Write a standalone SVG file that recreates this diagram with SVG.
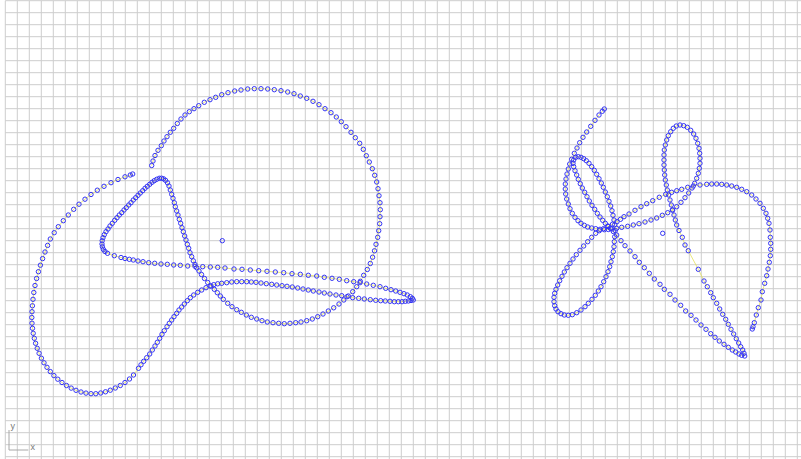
<svg xmlns="http://www.w3.org/2000/svg" width="801" height="459" viewBox="0 0 801 459">
<style>
.grid{fill:none;stroke:#cdcdcd;stroke-width:1}
.axis{fill:none;stroke:#a8a8a8;stroke-width:1}
.lbl{font-family:"Liberation Sans",Arial,sans-serif;font-size:9px;fill:#777}
.curve{fill:none;stroke:#e4e15a;stroke-width:0.8;marker-start:url(#pt);marker-mid:url(#pt);marker-end:url(#pt)}
.dot{fill:none;stroke:#3535f5;stroke-width:1}
</style>
<defs>
<marker id="pt" viewBox="-3 -3 6 6" markerWidth="6" markerHeight="6" refX="0" refY="0" markerUnits="userSpaceOnUse" overflow="visible"><circle r="2.2" class="dot"/></marker>
</defs>
<rect width="801" height="459" fill="#ffffff"/>
<g id="grid">
<path class="grid" d="M5.3 0.7V459M17.3 0.7V459M29.3 0.7V459M41.3 0.7V459M53.3 0.7V459M65.3 0.7V459M77.3 0.7V459M89.3 0.7V459M101.3 0.7V459M113.3 0.7V459M125.3 0.7V459M137.3 0.7V459M149.3 0.7V459M161.3 0.7V459M173.3 0.7V459M185.3 0.7V459M197.3 0.7V459M209.3 0.7V459M221.3 0.7V459M233.3 0.7V459M245.3 0.7V459M257.3 0.7V459M269.3 0.7V459M281.3 0.7V459M293.3 0.7V459M305.3 0.7V459M317.3 0.7V459M329.3 0.7V459M341.3 0.7V459M353.3 0.7V459M365.3 0.7V459M377.3 0.7V459M389.3 0.7V459M401.3 0.7V459M413.3 0.7V459M425.3 0.7V459M437.3 0.7V459M449.3 0.7V459M461.3 0.7V459M473.3 0.7V459M485.3 0.7V459M497.3 0.7V459M509.3 0.7V459M521.3 0.7V459M533.3 0.7V459M545.3 0.7V459M557.3 0.7V459M569.3 0.7V459M581.3 0.7V459M593.3 0.7V459M605.3 0.7V459M617.3 0.7V459M629.3 0.7V459M641.3 0.7V459M653.3 0.7V459M665.3 0.7V459M677.3 0.7V459M689.3 0.7V459M701.3 0.7V459M713.3 0.7V459M725.3 0.7V459M737.3 0.7V459M749.3 0.7V459M761.3 0.7V459M773.3 0.7V459M785.3 0.7V459M797.3 0.7V459"/>
<path class="grid" d="M5.3 0.7H801M5.3 12.7H801M5.3 24.7H801M5.3 36.7H801M5.3 48.7H801M5.3 60.7H801M5.3 72.7H801M5.3 84.7H801M5.3 96.7H801M5.3 108.7H801M5.3 120.7H801M5.3 132.7H801M5.3 144.7H801M5.3 156.7H801M5.3 168.7H801M5.3 180.7H801M5.3 192.7H801M5.3 204.7H801M5.3 216.7H801M5.3 228.7H801M5.3 240.7H801M5.3 252.7H801M5.3 264.7H801M5.3 276.7H801M5.3 288.7H801M5.3 300.7H801M5.3 312.7H801M5.3 324.7H801M5.3 336.7H801M5.3 348.7H801M5.3 360.7H801M5.3 372.7H801M5.3 384.7H801M5.3 396.7H801M5.3 408.7H801M5.3 420.7H801M5.3 432.7H801M5.3 444.7H801M5.3 456.7H801"/>
</g>
<g id="axes">
<path class="axis" d="M9 430V450H28.3"/>
<text class="lbl" x="10.6" y="429">y</text>
<text class="lbl" x="30.4" y="450">x</text>
</g>
<g id="curve-left">
<polyline class="curve" points="151.7,165.5 153,161 155,155.5 158,150.3 161.3,145.7 164,141 167,136.7 170.3,132.3 173.7,128.3 177.3,123.5 181,119 185,115 189.3,111.7 194,108.7 198.7,105.7 204.3,102.3 210,99.7 215.7,97.3 221.7,94.7 228,92.7 234.7,91 241,90 247.7,89 254.3,88.7 261,88.7 267.7,89 274.3,89.7 281,90.7 287.7,92 294,93.7 300.3,96 306.7,98.3 313,101.3 319,104.7 325,108.7 331,112.7 336.3,117 341.3,121.7 346,126.7 351,132.3 355.3,137.7 359.7,143.3 363.3,149.3 366.3,155.7 369.3,162 372.3,168.7 374.7,175.3 376.7,182 378,188.7 379,195.7 380,202.7 380.3,209.7 380,216.7 379.7,223.7 378.7,230.7 377.7,237.3 376,244.3 374.5,250.8 372.6,257.2 370.3,263.5 367.3,269.5 363.7,275.3 360.3,281.3 356.7,286.7 352.7,291.7 348.3,296 343.8,300 339,304 333.7,307.8 328.3,311 323,314 317.7,316.7 312.3,319 306.7,320.7 301,322 295.7,322.7 290,323.3 284.3,323.7 278.7,323.3 273,322.7 267.3,322 262,320.7 256.7,319 251.3,317.3 246.3,315 241.3,312.3 236.7,309.7 232,306.7 227.7,303.3 223.3,299.3 220.3,296 217.3,292.7 214.3,289.3 211,286 207.7,282.5 204.5,278.5 201.5,274.5 199,271 196.7,267.8 195,264.5 193.3,260.8 191.7,256.7 190,252.7 188.7,248.3 187.3,244.3 186,240 184.7,236 183.3,231.7 182,227.7 180.7,223.3 179.3,219.3 178,215 176.7,211 175.3,206.7 174.3,202.7 173,198.3 171.7,194.3 170.3,190 169,186 167.5,182.8 165.5,180.3 163.5,178.8 161.5,178.2 159.3,178.3 156.7,179.3 154.3,180.7 152,182.3 149.7,184.3 147.3,186.3 145,188.3 142.7,190.7 140.3,193 138,195.3 135.7,197.7 133.3,200 131,202.7 128.7,205 126.3,207.7 124,210 121.7,212.7 119.3,215 117,217.7 114.7,220.3 112.3,223.3 110,226 108,229 106,231.7 104.3,234.7 103,237.7 102.2,240.7 102,244 102.4,246.8 103.4,249.4 105,251.5 107.5,253.3 114.3,255.7 121,257.5 125,258.5 129.3,259.3 133.3,260 138,261 143,261.7 148.7,262.7 154.7,263.3 161,264 167.3,264.3 173.7,265 180.3,265.3 187.7,266 195,266.3 202.7,266.7 210.3,267 217.7,267.3 225,268 234,269 242,269.3 250.3,270 258.7,270.7 267,271.3 275.3,272 283.7,272.7 292,273.7 300.3,274.3 308.3,275.3 316.7,276 324.3,277.3 332,278.3 339.3,279.3 346.7,280.7 353.7,281.7 360,282.7 366.7,284 373.3,285.3 380,286.7 385.7,288.3 391,289.7 395.7,291 400,292.3 404,293.7 407.3,295 410.3,296.7 412.3,298.3 413.3,300 411,300.5 408.3,301 405.3,301.3 402,301.7 398.3,301.7 394.3,301.7 390,301.3 385.3,301 380.7,300.7 375.7,300.3 370.3,299.7 364.3,299 358.7,298.3 352.7,297.7 347,296.7 341.7,295.7 336,295 330,294 324.3,293 319,292 313.3,291 308.3,290 303,289 297.7,288 292.3,287 287,286.3 282,285.7 276.7,285 271.7,284.3 266.3,283.7 261,283 256,282.3 251.3,282 246.7,281.7 241.7,281.7 236.7,281.7 231.7,282 226.7,282.7 221.7,283.3 217.7,283.8 213.7,284.7 210,286 206,287.7 201.7,290 197.7,292.3 193.7,295 190.3,297.7 187.3,300.7 184.3,304 181.7,307 179,310 176.7,313.3 174,316.7 171.7,320 169.3,323.3 167,326.7 164.3,330.7 162,334.3 159.7,338.3 157.3,342.3 155,346 152.3,350 149.7,354 146.7,357.7 143.7,361.3 141,364.8 138.5,368.3 133.5,375 129.5,379 125,382.5 120.3,385.5 115.3,388 110.3,390.2 105.5,391.8 100.7,393 95.8,393.7 91,393.7 86,393.1 81,392 76,390.3 71.2,388.1 66.5,385.5 62,382.5 57.8,379.2 53.9,375.6 50.3,371.6 47,367.3 44,362.8 41.4,358.2 39.1,353.3 37.2,348.3 35.6,343.3 34.3,338.3 33.2,333.3 32.5,328.3 32,323.2 31.8,317.5 32,311.7 32.4,305.8 33,299.3 33.8,292.5 35,285.5 36.6,278.5 38.4,271.7 40.4,265.2 42.6,258.6 45,252 47.6,245.4 50.3,239 54.2,232.7 58.3,226.7 63.3,220.7 68.3,215 73.7,209.3 79,204.2 85,199.2 91,194.5 97.3,190.2 104,186.3 111,182.7 118,179.5 125,176.8 130.3,175 132.7,174"/>
<circle class="dot" cx="222.3" cy="240.7" r="2.2"/>
</g>
<g id="curve-right">
<polyline class="curve" points="604.3,109 602.3,111.3 599,115 595,120.3 590.7,126.3 586.7,132 583,137.3 579.7,142.7 577,148 574.3,153.3 571.7,159.3 569.7,164 568.3,169 567,174 566,179 565.3,184 565.3,189 565.7,194 566.7,199 568.3,204 570,208.7 572.3,213.3 575,217.3 578,220.7 581,223.3 584.3,225.3 587.7,227 591.7,228 595.7,228.7 600,229.3 604.3,229.7 608.3,229.5 611.7,229 616.7,228.3 621.7,227.3 627.7,226.3 633.3,225 639,223.7 645,222 651,220 656.7,218 662.3,215.3 667.7,212.7 672.3,210 676.7,206.7 681,202.3 685,197.7 688.7,193 692,188 694.7,183.3 696.7,178.3 698.3,173.3 699.3,168.3 700,163.3 700,158.3 699.7,153.3 699,148.3 697.7,143.3 696,138.3 693.7,134 690.7,130.3 687.3,127.3 683.7,125.7 680,125 676.3,126 673.3,128.3 670.7,131.7 668.3,135.7 666.7,140 665.3,145 664.3,150 664,155 664,160 664,165 664.3,170 664.7,175 665.3,180 666.3,185 667.3,190 668.7,195 670,200 671.3,205 672.7,210 674,215 675.3,220 676.7,225 679,230.5 682.3,237.3 685,245 688.3,250.7 698.3,269.3 704,281 707.3,286.7 710.7,292.7 713.3,297.7 716.7,303.3 719.7,309 722.7,314.3 725.7,319.3 728.3,324.3 731,329.3 733.7,334 736.3,338.7 738.7,343 740.7,346.7 742.7,350 744,353.3 744.7,356 741.7,355.3 739,354 735.7,352 732.3,350 728.3,347.3 724,344.3 719.3,341 715,337.3 710.7,333.7 706,329.3 701,325 696,320 691,315.3 685.7,311 680.7,305.3 675,300 670,294.3 664.3,289.3 660,284.3 654.3,279 649.3,273.3 644.3,267.7 639.3,262.3 635,256.7 630,251 625,245.7 621,240.7 616.7,235 613.3,231.5 610.3,228.3 608,226 605.3,223.3 602.7,220.3 600,217 597.3,213.3 594.7,209.3 592,205.3 589.3,201 587,196.7 584.7,192.3 582.3,188 580.3,183.7 578.3,179.3 576.7,175 575,170.7 573.7,166.7 573,163.3 573.7,160 575.7,157.3 578.3,156.7 581,157.3 583.7,158.7 586.3,160.7 589,163.3 591.7,166.7 594.3,170.3 596.7,174.3 599,178.7 601.3,183 603.3,187.3 605.3,192 607.3,196.7 609,201.3 610.7,206 612,210.7 613,215.3 614,220 614.7,224.7 615.2,230.5 614.7,236.7 614.3,241.7 614,246.7 613.3,251.7 612.3,256.7 611,261.7 609.7,266.7 608,271.7 606,276.7 603.7,281.7 601,286.7 598.3,291 595.3,295.3 592,299.3 588.3,303.3 585,306.7 581,310 576.7,312.7 572.3,314.7 568.3,315.3 564.3,315 561,313.7 558,311.7 556,309 554.7,305.7 554,301.7 554,297.3 554.7,293.3 556,289.3 557.7,285 559.7,280.7 562,276.3 564.3,272 567,267.7 570,263.3 573,259 576.3,254.7 580,250.3 583.7,246 587.7,241.7 591.7,237.3 595.7,233.3 599.3,230.7 603.5,228.7 608,226.5 612.5,224.2 617,221.7 620.5,219.3 624,216.7 629,214 635,210.3 641,206.7 646.7,203.7 652.7,200.7 659.3,197.3 665.7,194.3 671.7,192.3 676.7,190.7 681.7,189.3 687.7,187.3 693.3,186 700,185 706.7,184.3 711.7,184 716.7,184 721.7,184.3 726.7,185 731.7,186 736.7,187.3 741.7,189.3 746.7,191.7 751.7,195 756,199 760,203.3 763.3,208.3 766,213.3 767.7,218.3 769,223.3 770,230 770.3,237.3 770.7,243.3 770.7,249.3 770.3,255.7 769.3,262.3 768,269 766.7,275.7 764.7,283.3 762.3,291.7 761,300 758.3,307.7 756.3,315 754.3,322.7 753,326.7 752.3,329"/>
<circle class="dot" cx="662.7" cy="233.3" r="2.2"/>
</g>
</svg>
